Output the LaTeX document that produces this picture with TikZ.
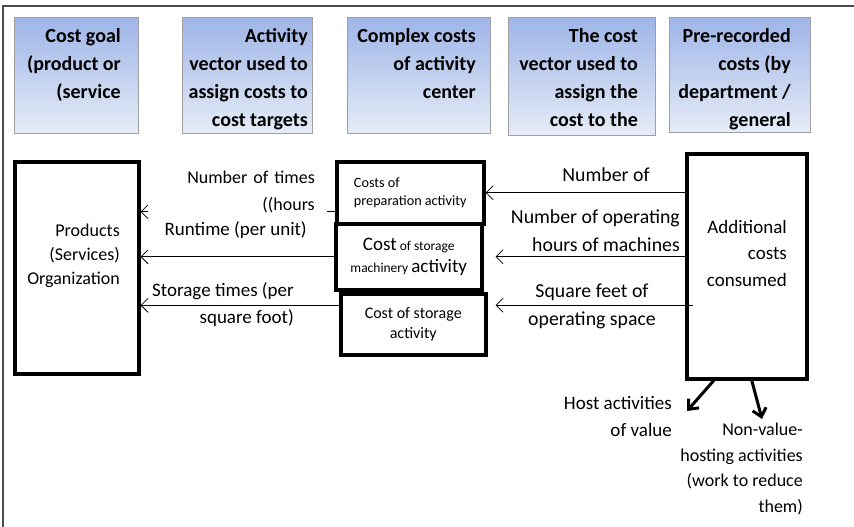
\documentclass[tikz,border=0pt]{standalone}
\usepackage{fontspec}
\setmainfont{Carlito}
\usetikzlibrary{arrows.meta}
\definecolor{hdrtop}{RGB}{158,181,231}
\definecolor{hdrbot}{RGB}{230,236,247}
\newcommand{\hdrfont}{\fontsize{20}{28}\selectfont\bfseries}
\newcommand{\lblfont}{\fontsize{19}{27}\selectfont}
\newcommand{\rlblfont}{\fontsize{19.8}{28}\selectfont}
\newcommand{\smfont}{\fontsize{14.2}{18}\selectfont}
\newcommand{\bgfont}{\fontsize{19}{22}\selectfont}
\begin{document}
\begin{tikzpicture}[x=1pt,y=-1pt,
    hdr/.style={draw=gray!75,line width=0.8pt,top color=hdrtop,bottom color=hdrbot,anchor=north west,inner sep=0pt},
    hdrtxt/.style={anchor=north east,align=right,inner sep=0pt,font=\hdrfont},
    box/.style={draw,line width=3.5pt,anchor=north west,inner sep=0pt},
    lbl/.style={align=right,inner sep=0pt,font=\lblfont},
    conn/.style={-{Straight Barb[length=7pt,width=14pt]},line width=0.8pt},
    flow/.style={-{Straight Barb[length=8pt,width=14pt]},line width=3pt}]
  \useasboundingbox (0,0) rectangle (854,527);
  \draw[line width=1.3pt,black!70] (3,527) -- (3,6) -- (854,6);
  % header row
  \node[hdr,minimum width=124,minimum height=116] (goal) at (14,17) {};
  \node[hdr,minimum width=130,minimum height=116] (actvec) at (182,17) {};
  \node[hdr,minimum width=143,minimum height=116] (cplx) at (347,17) {};
  \node[hdr,minimum width=147,minimum height=118] (costvec) at (508,17) {};
  \node[hdr,minimum width=141,minimum height=115] (prerec) at (669,17) {};
  \node[hdrtxt] (goaltxt) at (121,28) {Cost goal\\(product or\\(service};
  \node[hdrtxt] (actvectxt) at (308,28) {Activity\\vector used to\\assign costs to\\cost targets};
  \node[hdrtxt] (cplxtxt) at (476,28) {Complex costs\\of activity\\center};
  \node[hdrtxt] (costvectxt) at (638,28) {The cost\\vector used to\\assign the\\cost to the};
  \node[hdrtxt] (prerectxt) at (791,28) {Pre-recorded\\costs (by\\department /\\general};
  % boxes
  \node[box,minimum width=124,minimum height=212] (prod) at (13,160) {};
  \node[lbl,anchor=east,font=\fontsize{18}{24}\selectfont] (prodtxt) at (120,256) {Products\\(Services)\\Organization};
  \node[box,minimum width=147,minimum height=62,align=left,font=\smfont] (prep) at (335,160) {Costs of\\preparation activity};
  \node[box,minimum width=146,minimum height=66,align=center,font=\fontsize{13.5}{22}\selectfont] (mach) at (334,222)
    {{\bgfont Cost} of storage\\machinery {\bgfont activity}};
  \node[box,minimum width=145,minimum height=61,align=center,font=\fontsize{16}{20}\selectfont] (stor) at (339,292) {Cost of storage\\activity};
  \node[box,minimum width=120,minimum height=225] (add) at (685,152) {};
  \node[lbl,anchor=east,font=\fontsize{19}{26.5}\selectfont] (addtxt) at (787,253) {Additional\\costs\\consumed};
  % connectors
  \draw[conn] (add.west |- prep.east) -- (prep.east);
  \draw[conn] (add.west |- mach.east) -- ([xshift=12pt]mach.east);
  \coordinate (s3) at ([xshift=8pt,yshift=19pt]stor.east);
  \draw[conn] ([xshift=8pt]add.west |- s3) -- (s3);
  \coordinate (t1) at ([yshift=-19pt]prep.west);
  \draw[conn] (t1) -- (prod.east |- t1);
  \draw[conn] (mach.west) -- (prod.east |- mach.west);
  \coordinate (t3) at ([yshift=19pt]stor.west);
  \draw[conn] (t3) -- (prod.east |- t3);
  \coordinate (hv) at (687,411);
  \coordinate (nv) at (762,419);
  \draw[flow] ([xshift=-33pt]add.south) -- (hv);
  \draw[flow] ([xshift=5pt]add.south) -- (nv);
  % labels
  \node[lbl,font=\fontsize{18}{27}\selectfont,fill=white,text width=155pt,inner xsep=12pt,inner ysep=2pt,anchor=south east] (ntimes) at (327,215) {Number of times\\((hours};
  \node[lbl,anchor=east] (runtime) at (307,230) {Runtime (per unit)};
  \node[lbl,anchor=east] (stimes) at (294,305) {Storage times (per\\square foot)};
  \node[lbl,font=\rlblfont] (numof) at (606,175) {Number of};
  \node[lbl,font=\rlblfont,anchor=east] (numop) at (680,231) {Number of operating\\hours of machines};
  \node[lbl,font=\rlblfont,align=center] (sqft) at (592,306) {Square feet of\\operating space};
  \node[lbl,anchor=east] (hostv) at (672,416) {Host activities\\of value};
  \node[lbl,anchor=east,font=\fontsize{18}{25.5}\selectfont] (nonv) at (803,469) {Non-value-\\hosting activities\\(work to reduce\\them)};
\end{tikzpicture}
\end{document}
